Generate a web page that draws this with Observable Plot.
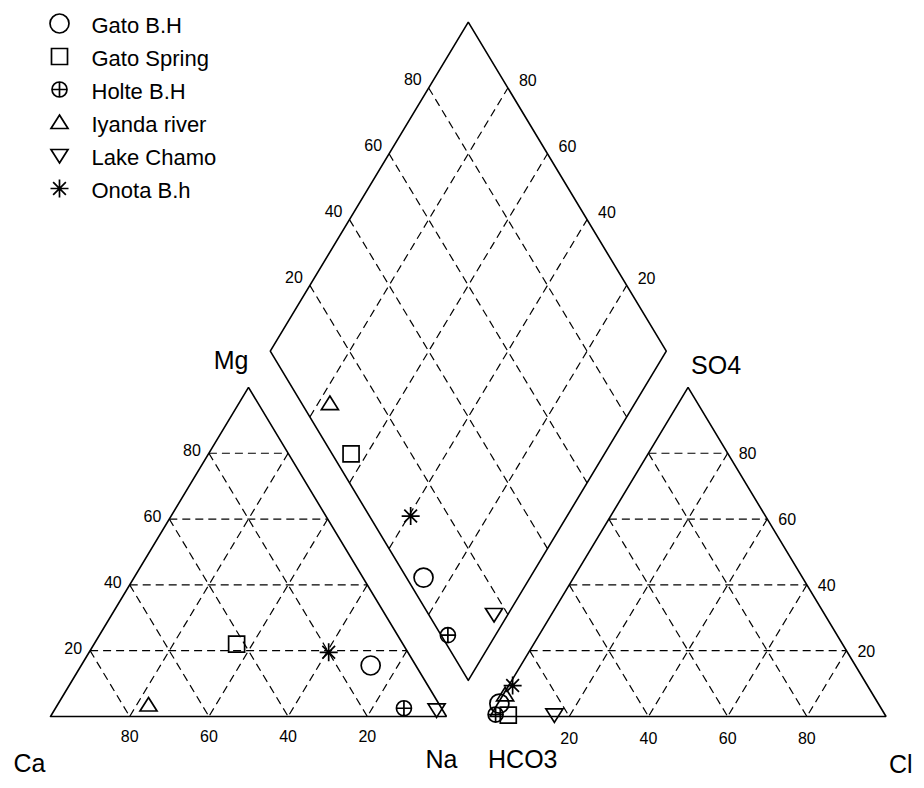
<!DOCTYPE html>
<html>
<head>
<meta charset="utf-8">
<script src="https://cdn.jsdelivr.net/npm/d3@7"></script>
<script src="https://cdn.jsdelivr.net/npm/@observablehq/plot@0.6"></script>
<style>
  body { margin: 0; background: #fff; }
  #wrap { position: relative; width: 924px; height: 788px; overflow: hidden; background: #fff; }
  #chart, #legend { position: absolute; left: 0; top: 0; }
</style>
</head>
<body>
<div id="wrap"><div id="chart"></div><div id="legend"></div></div>
<script>
// ---- Data (percent of meq/L) ----
const samples   = ["Gato B.H", "Gato Spring", "Holte B.H", "Iyanda river", "Lake Chamo", "Onota B.h"];
const cationCa  = [11.4, 42.0,  9.5, 73.5,  1.5, 20.0];
const cationMg  = [15.5, 22.0,  2.5,  3.5,  2.0, 19.5];
const cationNaK = [73.1, 36.0, 88.0, 23.0, 96.5, 60.5];
const anionHCO3 = [95.7, 95.2, 98.3, 92.9, 83.5, 89.6];
const anionSO4  = [ 3.9,  0.4,  0.6,  6.6,  0.5,  9.4];
const anionCl   = [ 0.4,  4.4,  1.1,  0.5, 16.0,  1.0];
const gridValues = [20, 40, 60, 80];
const tickLabels = ["20", "40", "60", "80"];
const cornerLabels = ["Ca", "Na", "Mg", "HCO3", "Cl", "SO4"];

// ---- Piper geometry (data units: triangle side = 100) ----
const H = Math.sqrt(3) / 2;
const GAP = 11;
function cat(ca, mg, na) { const s = ca + mg + na; return [100 * (na + mg / 2) / s, 100 * mg * H / s]; }
function ani(hco3, so4, cl) { const s = hco3 + so4 + cl; return [100 + GAP + 100 * (cl + so4 / 2) / s, 100 * so4 * H / s]; }
function dia(na, a) { // na = Na+K %, a = Cl+SO4 %
  const bx = 100 + GAP / 2, by = GAP * H;
  return [bx - 0.5 * (100 - na) + 0.5 * a, by + H * (100 - na) + H * a];
}

// outlines
const outlines = [];
function addPoly(id, pts) { pts.forEach(p => outlines.push({id, x: p[0], y: p[1]})); }
addPoly("cat", [cat(100,0,0), cat(0,0,100), cat(0,100,0), cat(100,0,0)]);
addPoly("ani", [ani(100,0,0), ani(0,0,100), ani(0,100,0), ani(100,0,0)]);
addPoly("dia", [dia(100,0), dia(0,0), dia(0,100), dia(100,100), dia(100,0)]);

// grid segments
const grid = [];
function seg(a, b) { grid.push({x1: a[0], y1: a[1], x2: b[0], y2: b[1]}); }
gridValues.forEach(t => {
  seg(cat(100 - t, t, 0), cat(0, t, 100 - t));        // Mg const
  seg(cat(t, 100 - t, 0), cat(t, 0, 100 - t));        // Ca const
  seg(cat(0, 100 - t, t), cat(100 - t, 0, t));        // Na const
  seg(ani(100 - t, t, 0), ani(0, t, 100 - t));        // SO4 const
  seg(ani(t, 100 - t, 0), ani(t, 0, 100 - t));        // HCO3 const
  seg(ani(0, 100 - t, t), ani(100 - t, 0, t));        // Cl const
  seg(dia(0, t), dia(100, t));                        // Cl+SO4 const
  seg(dia(t, 0), dia(t, 100));                        // Na+K const
});

// tick labels
const ticks = [];
gridValues.forEach((t, i) => {
  const lab = tickLabels[i];
  let p;
  p = cat(t, 0, 100 - t);   ticks.push({x: p[0], y: p[1], text: lab, g: "catB"});
  p = cat(100 - t, t, 0);   ticks.push({x: p[0], y: p[1], text: lab, g: "catL"});
  p = ani(100 - t, 0, t);   ticks.push({x: p[0], y: p[1], text: lab, g: "aniB"});
  p = ani(0, t, 100 - t);   ticks.push({x: p[0], y: p[1], text: lab, g: "aniR"});
  p = dia(0, t);            ticks.push({x: p[0], y: p[1], text: lab, g: "diaL"});
  p = dia(100 - t, 100);    ticks.push({x: p[0], y: p[1], text: lab, g: "diaR"});
});
const T = g => ticks.filter(d => d.g === g);

// corner labels
const cornerPos = {
  "Ca": cat(100,0,0), "Na": cat(0,0,100), "Mg": cat(0,100,0),
  "HCO3": ani(100,0,0), "Cl": ani(0,0,100), "SO4": ani(0,100,0)
};
const corners = cornerLabels.map(k => ({text: k, x: cornerPos[k][0], y: cornerPos[k][1]}));
const C = k => corners.filter(d => d.text === k);

// sample points in the three fields
const points = [];
samples.forEach((name, i) => {
  const a = cat(cationCa[i], cationMg[i], cationNaK[i]);
  const b = ani(anionHCO3[i], anionSO4[i], anionCl[i]);
  const na = 100 * cationNaK[i] / (cationCa[i] + cationMg[i] + cationNaK[i]);
  const an = 100 * (anionSO4[i] + anionCl[i]) / (anionHCO3[i] + anionSO4[i] + anionCl[i]);
  const c = dia(na, an);
  points.push({name, x: a[0], y: a[1]});
  points.push({name, x: b[0], y: b[1]});
  points.push({name, x: c[0], y: c[1]});
});

// ---- custom symbols ----
const symCircle = {draw(c) { c.moveTo(9.5, 0); c.arc(0, 0, 9.5, 0, 2 * Math.PI); }};
const symSquare = {draw(c) { c.moveTo(-8, -8); c.lineTo(8, -8); c.lineTo(8, 8); c.lineTo(-8, 8); c.closePath(); }};
const symCirclePlus = {draw(c) {
  const r = 7.5; c.moveTo(r, 0); c.arc(0, 0, r, 0, 2 * Math.PI);
  c.moveTo(-r, 0); c.lineTo(r, 0); c.moveTo(0, -r); c.lineTo(0, r);
}};
const symTriUp = {draw(c) { c.moveTo(0, -7.5); c.lineTo(8.5, 6); c.lineTo(-8.5, 6); c.closePath(); }};
const symTriDown = {draw(c) { c.moveTo(0, 7.5); c.lineTo(8.5, -6); c.lineTo(-8.5, -6); c.closePath(); }};
const symAsterisk = {draw(c) {
  const r = 9, d = r * Math.SQRT1_2;
  c.moveTo(0, -r); c.lineTo(0, r); c.moveTo(-r, 0); c.lineTo(r, 0);
  c.moveTo(-d, -d); c.lineTo(d, d); c.moveTo(-d, d); c.lineTo(d, -d);
}};
const symbolScale = {domain: samples, range: [symCircle, symSquare, symCirclePlus, symTriUp, symTriDown, symAsterisk]};

const FONT = "'Liberation Sans', Arial, Helvetica, sans-serif";

// ---- scales: data -> pixels ----
const PX = 3.96, X0 = 50, PY = 3.8, Y0 = 716;
const chart = Plot.plot({
  width: 924, height: 788,
  marginTop: 0, marginRight: 0, marginBottom: 0, marginLeft: 0,
  style: {fontFamily: FONT, background: "white", color: "black"},
  x: {domain: [-X0 / PX, (924 - X0) / PX], range: [0, 924], axis: null},
  y: {domain: [(Y0 - 788) / PY, Y0 / PY], range: [788, 0], axis: null},
  symbol: symbolScale,
  marks: [
    Plot.link(grid, {x1: "x1", y1: "y1", x2: "x2", y2: "y2", stroke: "black", strokeWidth: 1.2, strokeDasharray: "8,5"}),
    Plot.line(outlines, {x: "x", y: "y", z: "id", stroke: "black", strokeWidth: 1.6, strokeLinejoin: "miter"}),
    Plot.text(T("catB"), {x: "x", y: "y", text: "text", dy: 20, fontSize: 16, textAnchor: "middle"}),
    Plot.text(T("catL"), {x: "x", y: "y", text: "text", dx: -8, dy: -2, fontSize: 16, textAnchor: "end"}),
    Plot.text(T("aniB"), {x: "x", y: "y", text: "text", dy: 22, fontSize: 16, textAnchor: "middle"}),
    Plot.text(T("aniR"), {x: "x", y: "y", text: "text", dx: 11, dy: 1, fontSize: 16, textAnchor: "start"}),
    Plot.text(T("diaL"), {x: "x", y: "y", text: "text", dx: -7, dy: -8, fontSize: 16, textAnchor: "end"}),
    Plot.text(T("diaR"), {x: "x", y: "y", text: "text", dx: 11, dy: -7, fontSize: 16, textAnchor: "start"}),
    Plot.text(C("Mg"),   {x: "x", y: "y", text: "text", dx: 0,   dy: -26, fontSize: 25, textAnchor: "end"}),
    Plot.text(C("SO4"),  {x: "x", y: "y", text: "text", dx: 3,   dy: -21, fontSize: 25, textAnchor: "start"}),
    Plot.text(C("Ca"),   {x: "x", y: "y", text: "text", dx: -21, dy: 47, fontSize: 25, textAnchor: "middle"}),
    Plot.text(C("Na"),   {x: "x", y: "y", text: "text", dx: -5,  dy: 43, fontSize: 25, textAnchor: "middle"}),
    Plot.text(C("HCO3"), {x: "x", y: "y", text: "text", dx: -2,  dy: 43, fontSize: 25, textAnchor: "start"}),
    Plot.text(C("Cl"),   {x: "x", y: "y", text: "text", dx: 3,   dy: 48, fontSize: 25, textAnchor: "start"}),
    Plot.dot(points, {x: "x", y: "y", symbol: "name", r: 8, stroke: "black", fill: "none", strokeWidth: 1.7})
  ]
});
document.getElementById("chart").append(chart);

// ---- legend ----
const legend = Plot.plot({
  width: 260, height: 210,
  marginTop: 0, marginRight: 0, marginBottom: 0, marginLeft: 0,
  style: {fontFamily: FONT, background: "transparent", color: "black"},
  x: {domain: [0, 1], range: [59, 260], axis: null},
  y: {type: "point", domain: samples, range: [23, 188], padding: 0, axis: null},
  symbol: symbolScale,
  marks: [
    Plot.dot(samples, {x: () => 0, y: d => d, symbol: d => d, r: 8, stroke: "black", fill: "none", strokeWidth: 1.7}),
    Plot.text(samples, {x: () => 0, y: d => d, text: d => d, dx: 32, dy: 2, fontSize: 22, textAnchor: "start"})
  ]
});
document.getElementById("legend").append(legend);
</script>
</body>
</html>
